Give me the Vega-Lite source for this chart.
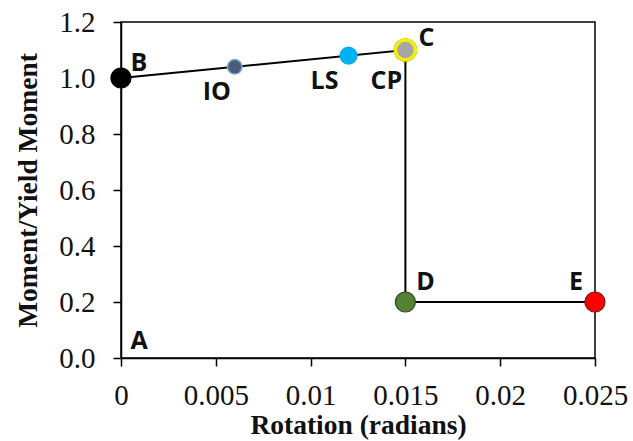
{
  "$schema": "https://vega.github.io/schema/vega-lite/v6.json",
  "width": 474,
  "height": 336,
  "autosize": {"type": "none"},
  "padding": {"left": 121, "top": 22, "right": 38, "bottom": 83},
  "background": "white",
  "config": {
    "view": {"stroke": "#000", "strokeWidth": 1.5},
    "axis": {
      "domainColor": "#000", "domainWidth": 1.5, "tickColor": "#000", "tickWidth": 1.5, "tickSize": 8,
      "grid": false, "labelFont": "Liberation Serif", "labelFontSize": 29, "labelColor": "#111",
      "titleFont": "Liberation Serif", "titleFontWeight": "bold", "titleFontSize": 27.5, "titleColor": "#111"
    }
  },
  "datasets": {
    "path": [
      {"order": 1, "x": 0, "y": 1.0},
      {"order": 2, "x": 0.015, "y": 1.1},
      {"order": 3, "x": 0.015, "y": 0.2},
      {"order": 4, "x": 0.025, "y": 0.2}
    ],
    "points": [
      {"name": "B", "x": 0, "y": 1.0},
      {"name": "IO", "x": 0.006, "y": 1.04},
      {"name": "LS", "x": 0.012, "y": 1.08},
      {"name": "C", "x": 0.015, "y": 1.1},
      {"name": "D", "x": 0.015, "y": 0.2},
      {"name": "E", "x": 0.025, "y": 0.2}
    ],
    "labels": [
      {"label": "A", "x": 0, "y": 0},
      {"label": "B", "x": 0, "y": 1.0},
      {"label": "IO", "x": 0.006, "y": 1.04},
      {"label": "LS", "x": 0.012, "y": 1.08},
      {"label": "CP", "x": 0.015, "y": 1.1},
      {"label": "C", "x": 0.015, "y": 1.1},
      {"label": "D", "x": 0.015, "y": 0.2},
      {"label": "E", "x": 0.025, "y": 0.2}
    ]
  },
  "encoding": {
    "x": {"field": "x", "type": "quantitative",
      "scale": {"domain": [0, 0.025], "nice": false, "zero": false},
      "axis": {"title": "Rotation (radians)", "values": [0, 0.005, 0.01, 0.015, 0.02, 0.025], "format": "~g", "labelPadding": 15, "titlePadding": 1, "labelFlush": false}},
    "y": {"field": "y", "type": "quantitative",
      "scale": {"domain": [0, 1.2], "nice": false},
      "axis": {"title": "Moment/Yield Moment", "values": [0, 0.2, 0.4, 0.6, 0.8, 1.0, 1.2], "format": ".1f", "labelPadding": 18, "titlePadding": 16}}
  },
  "layer": [
    {"data": {"name": "path"}, "mark": {"type": "line", "color": "#000", "strokeWidth": 2}, "encoding": {"order": {"field": "order"}}},
    {"data": {"name": "points"}, "transform": [{"filter": "datum.name === 'C'"}],
      "mark": {"type": "point", "filled": true, "size": 540, "color": "#222", "opacity": 1}},
    {"data": {"name": "points"},
      "transform": [{"filter": "datum.name !== 'IO' && datum.name !== 'LS'"}],
      "mark": {"type": "point", "filled": true, "size": 400, "opacity": 1},
      "encoding": {
        "fill": {"field": "name", "type": "nominal", "legend": null,
          "scale": {"domain": ["B", "C", "D", "E", "IO", "LS"], "range": ["#000000", "#a6a6a6", "#548235", "#ff0000", "#4b5b78", "#00b0f0"]}},
        "stroke": {"field": "name", "type": "nominal", "legend": null,
          "scale": {"domain": ["B", "C", "D", "E", "IO", "LS"], "range": ["#000000", "#f0f000", "#2e4a1e", "#7a1a1a", "#7fa6d8", "#00b0f0"]}},
        "strokeWidth": {"condition": {"test": "datum.name === 'C'", "value": 3.5}, "value": 1.2}
      }},
    {"data": {"name": "points"},
      "transform": [{"filter": "datum.name === 'IO' || datum.name === 'LS'"}],
      "mark": {"type": "point", "filled": true, "opacity": 1, "strokeWidth": 1.5},
      "encoding": {
        "fill": {"field": "name", "type": "nominal", "legend": null},
        "stroke": {"field": "name", "type": "nominal", "legend": null},
        "size": {"condition": {"test": "datum.name === 'IO'", "value": 210}, "value": 280}
      }},
    {"data": {"name": "labels"}, "transform": [{"filter": "datum.label === 'A'"}],
      "mark": {"type": "text", "font": "Open Sans", "fontWeight": "bold", "fontSize": 25, "color": "#111", "dx": 18, "dy": -17}, "encoding": {"text": {"field": "label"}}},
    {"data": {"name": "labels"}, "transform": [{"filter": "datum.label === 'B'"}],
      "mark": {"type": "text", "font": "Open Sans", "fontWeight": "bold", "fontSize": 25, "color": "#111", "dx": 18, "dy": -15}, "encoding": {"text": {"field": "label"}}},
    {"data": {"name": "labels"}, "transform": [{"filter": "datum.label === 'IO'"}],
      "mark": {"type": "text", "font": "Open Sans", "fontWeight": "bold", "fontSize": 25, "color": "#111", "dx": -18, "dy": 25}, "encoding": {"text": {"field": "label"}}},
    {"data": {"name": "labels"}, "transform": [{"filter": "datum.label === 'LS'"}],
      "mark": {"type": "text", "font": "Open Sans", "fontWeight": "bold", "fontSize": 25, "color": "#111", "dx": -24, "dy": 25}, "encoding": {"text": {"field": "label"}}},
    {"data": {"name": "labels"}, "transform": [{"filter": "datum.label === 'CP'"}],
      "mark": {"type": "text", "font": "Open Sans", "fontWeight": "bold", "fontSize": 25, "color": "#111", "dx": -19, "dy": 31}, "encoding": {"text": {"field": "label"}}},
    {"data": {"name": "labels"}, "transform": [{"filter": "datum.label === 'C'"}],
      "mark": {"type": "text", "font": "Open Sans", "fontWeight": "bold", "fontSize": 25, "color": "#111", "dx": 21, "dy": -12}, "encoding": {"text": {"field": "label"}}},
    {"data": {"name": "labels"}, "transform": [{"filter": "datum.label === 'D'"}],
      "mark": {"type": "text", "font": "Open Sans", "fontWeight": "bold", "fontSize": 25, "color": "#111", "dx": 20, "dy": -20}, "encoding": {"text": {"field": "label"}}},
    {"data": {"name": "labels"}, "transform": [{"filter": "datum.label === 'E'"}],
      "mark": {"type": "text", "font": "Open Sans", "fontWeight": "bold", "fontSize": 25, "color": "#111", "dx": -19, "dy": -20}, "encoding": {"text": {"field": "label"}}}
  ]
}
